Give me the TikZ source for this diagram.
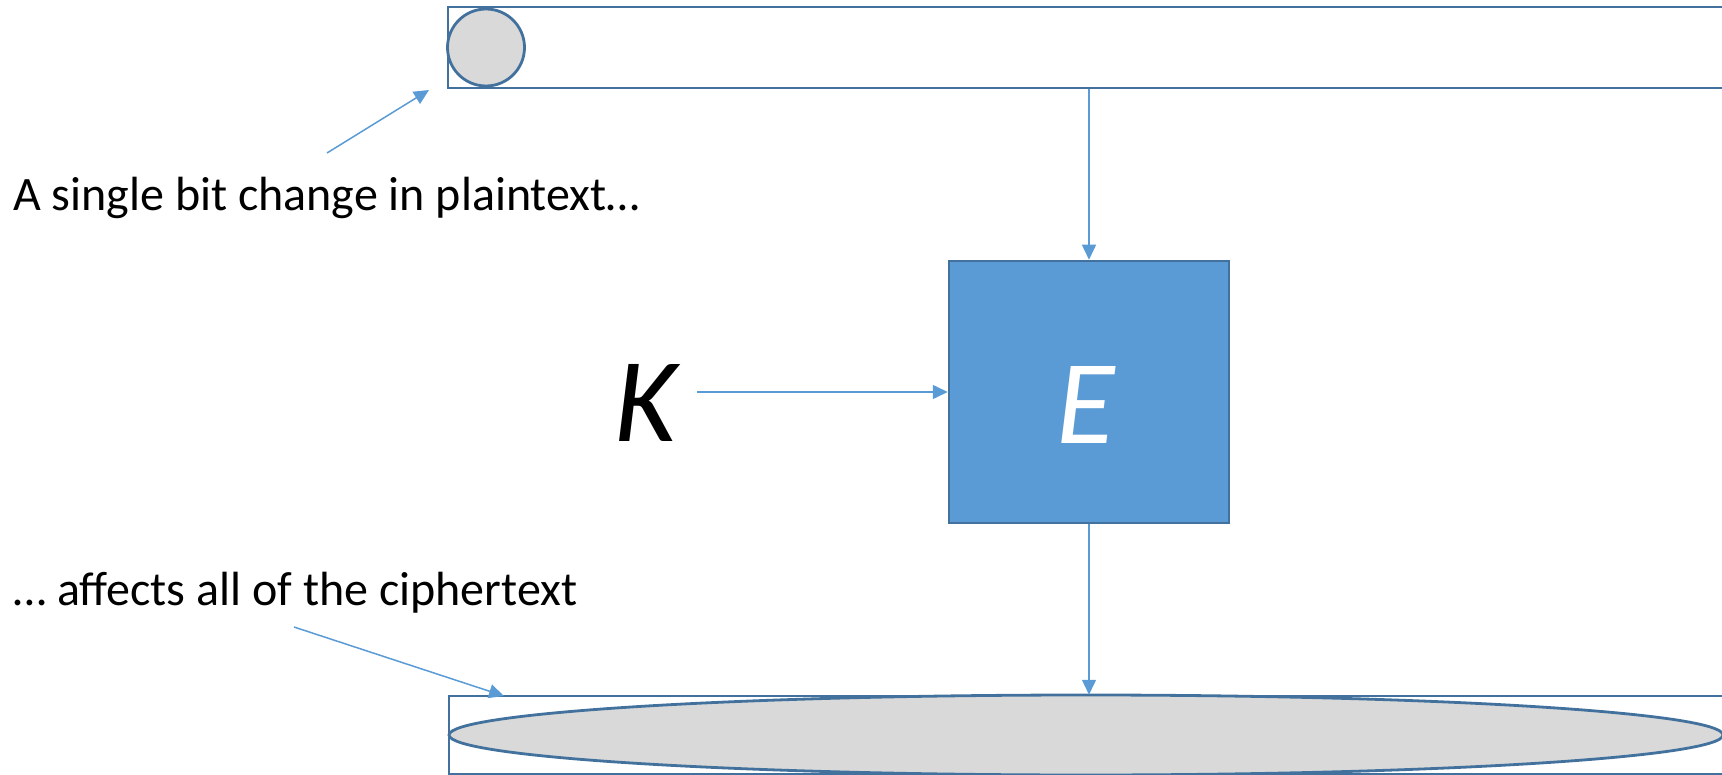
\documentclass[tikz,border=0pt]{standalone}
\usepackage{fontspec}
\setmainfont{Carlito}
\usetikzlibrary{arrows.meta,shapes.geometric}
\definecolor{edgeblue}{HTML}{41719C}
\definecolor{fillblue}{HTML}{5B9BD5}
\definecolor{lightgrey}{HTML}{D9D9D9}
\tikzset{
  bar/.style={draw=edgeblue, line width=2.5pt, rectangle, inner sep=0pt},
  bit/.style={draw=edgeblue, line width=2.8pt, fill=lightgrey, inner sep=0pt},
  encbox/.style={draw=edgeblue, line width=2.5pt, fill=fillblue, rectangle, inner sep=0pt,
    minimum width=280pt, minimum height=262pt},
  bigletter/.style={font=\fontsize{120pt}{120pt}\selectfont\itshape, inner sep=0pt},
  conn/.style={draw=fillblue, line width=1.5pt, -{Triangle[length=15pt,width=14pt]}},
  label/.style={font=\fontsize{48pt}{54pt}\selectfont, anchor=base west, inner sep=0pt}
}
\begin{document}
\begin{tikzpicture}[x=1pt,y=-1pt]
\useasboundingbox (0,0) rectangle (1722,775);
\clip (0,0) rectangle (1722,775);
% top bar (plaintext)
\node[bar, minimum width=1400pt, minimum height=81pt] (plain) at (1148,47.5) {};
\node[bit, circle, minimum size=77pt] (onebit) at (486,47.5) {};
% bottom bar (ciphertext)
\node[bar, minimum width=1400pt, minimum height=78pt] (cipher) at (1149,735) {};
\node[bit, ellipse, minimum width=1274pt, minimum height=80pt] (allbits) at (1086,735) {};
% encryption box
\node[encbox] (enc) at (1089,392) {};
\node[bigletter, text=white, anchor=base] (Etext) at (1086,443) {E};
\node[bigletter, anchor=base] (K) at (646,442) {K};
% connectors
\draw[conn] (plain.south -| enc.north) -- (enc.north);
\draw[conn] (enc.south) -- (enc.south |- cipher.north);
\draw[conn] (697,392) -- (enc.west);
% annotations
\node[label] (ltop) at (13,211) {A single bit change in plaintext…};
\node[label] (lbot) at (13,605) {… affects all of the ciphertext};
\coordinate (a1s) at (327,153);
\coordinate (a1e) at (429,90);
\coordinate (a2s) at (294,627);
\coordinate (a2e) at (504,696);
\draw[conn] (a1s) -- (a1e);
\draw[conn] (a2s) -- (a2e);
\end{tikzpicture}
\end{document}
